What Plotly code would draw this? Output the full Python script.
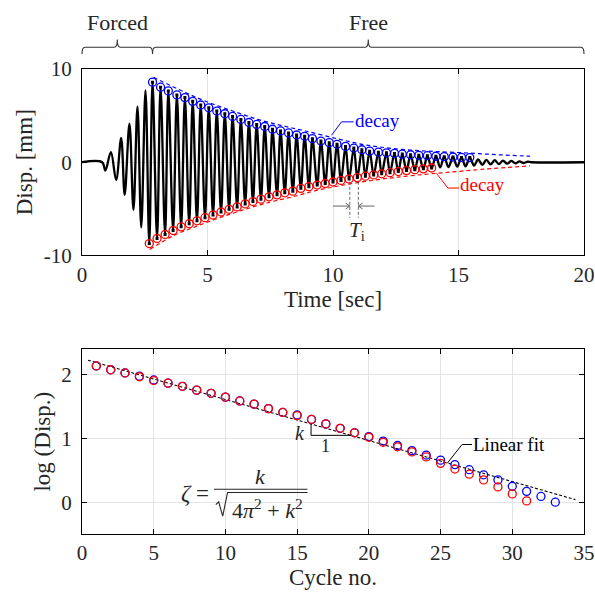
import plotly.graph_objects as go

# ---------------- data ----------------
# forced phase: extrema of the response (time [s], disp [mm])
forced_t = [0.0, 0.80, 0.93, 1.15, 1.36, 1.56, 1.70, 1.89, 2.05, 2.21, 2.36, 2.53]
forced_v = [0.0, 0.0, -0.9, 1.08, -1.9, 2.6, -3.5, 4.15, -5.1, 5.95, -7.0, 7.7]

# free phase: positive peaks (blue circles)
peak_t = [2.81, 3.13, 3.44, 3.78, 4.10, 4.41, 4.73, 5.05, 5.37, 5.69, 6.00, 6.33, 6.65, 6.96,
          7.28, 7.59, 7.91, 8.23, 8.55, 8.87, 9.18, 9.52, 9.85, 10.16, 10.50, 10.83, 11.15,
          11.46, 11.81, 12.13, 12.45, 12.76, 13.09, 13.42, 13.76, 14.10, 14.43, 14.78, 15.12, 15.45]
peak_v = [8.59, 8.05, 7.65, 7.22, 6.93, 6.53, 6.14, 5.84, 5.49, 5.20, 4.91, 4.59, 4.26, 4.05,
          3.83, 3.54, 3.36, 3.14, 2.92, 2.78, 2.53, 2.27, 2.10, 1.92, 1.70, 1.52, 1.34,
          1.19, 1.08, 1.01, 0.95, 0.87, 0.80, 0.74, 0.70, 0.64, 0.60, 0.56, 0.52, 0.50]

# free phase: negative peaks (red circles)
trough_t = [2.68, 2.99, 3.31, 3.63, 3.95, 4.27, 4.58, 4.90, 5.22, 5.54, 5.86, 6.18, 6.50, 6.81,
            7.13, 7.45, 7.77, 8.08, 8.40, 8.72, 9.04, 9.37, 9.69, 10.00, 10.32, 10.64, 10.97,
            11.29, 11.62, 11.94, 12.27, 12.60, 12.93, 13.26, 13.60, 13.93]
trough_v = [-8.72, -8.18, -7.75, -7.32, -6.93, -6.60, -6.28, -5.95, -5.66, -5.34, -5.05, -4.79,
            -4.47, -4.22, -3.96, -3.71, -3.50, -3.28, -3.10, -2.80, -2.62, -2.45, -2.28, -2.12,
            -1.95, -1.80, -1.65, -1.50, -1.36, -1.24, -1.12, -1.00, -0.90, -0.80, -0.71, -0.62]

# remaining small oscillation (no markers)
tail_t = [14.27, 14.60, 14.95, 15.28, 15.62, 15.78, 15.95, 16.11, 16.28, 16.44, 16.61, 16.77,
          16.94, 17.10, 17.27, 17.43, 17.60, 17.76, 17.92, 20.0]
tail_v = [-0.56, -0.52, -0.48, -0.44, -0.36, 0.30, -0.28, 0.26, -0.24, 0.22, -0.20, 0.18,
          -0.16, 0.14, -0.12, 0.10, -0.08, 0.06, 0.0, 0.0]

# decay envelopes (dashed)
env_up_t = [2.85, 4.1, 5.05, 6.0, 7.0, 8.0, 8.9, 10.2, 11.2, 12.1, 13.1, 14.1, 15.45, 16.6, 17.85]
env_up_v = [9.1, 7.5, 6.4, 5.5, 4.6, 3.9, 3.35, 2.5, 1.9, 1.56, 1.3, 1.15, 0.98, 0.8, 0.65]
env_lo_t = [2.7, 3.63, 4.58, 5.54, 6.5, 7.45, 8.4, 9.37, 10.32, 11.29, 12.27, 13.26, 14.5, 16.0, 17.85]
env_lo_v = [-9.35, -7.9, -6.85, -5.9, -5.05, -4.3, -3.7, -3.0, -2.5, -2.05, -1.7, -1.4, -1.1, -0.75, -0.4]

# phases of the excitation
phase_bounds = [0.0, 2.81, 20.0]
phase_names = ["Forced", "Free"]

# tick labels
top_xticks = [0, 5, 10, 15, 20]
top_yticks = [-10, 0, 10]
top_ytext = ["-10", "0", "10"]
bot_xticks = [0, 5, 10, 15, 20, 25, 30, 35]
bot_yticks = [0, 1, 2]

# log-decrement plot
cycle_blue = list(range(1, 34))
log_blue = [2.14, 2.08, 2.03, 1.98, 1.92, 1.87, 1.82, 1.76, 1.71, 1.65, 1.59, 1.54, 1.47, 1.41,
            1.37, 1.30, 1.23, 1.16, 1.09, 1.03, 0.96, 0.89, 0.81, 0.74, 0.66, 0.59, 0.51, 0.43,
            0.35, 0.25, 0.17, 0.09, 0.00]
cycle_red = list(range(1, 32))
log_red = [2.14, 2.08, 2.03, 1.97, 1.91, 1.87, 1.82, 1.76, 1.71, 1.65, 1.59, 1.54, 1.47, 1.41,
           1.36, 1.30, 1.23, 1.16, 1.09, 1.02, 0.94, 0.87, 0.79, 0.71, 0.61, 0.52, 0.44, 0.35,
           0.24, 0.13, 0.02]
fit_x = [0.42, 34.4]
fit_y = [2.23, 0.04]

# ---------------- figure ----------------
FONT = "Liberation Serif"
TXT = "#262626"
BLUE = "#0000ff"
RED = "#ff0000"

pts = sorted(zip(forced_t + peak_t + trough_t + tail_t, forced_v + peak_v + trough_v + tail_v))
wave_t = [p[0] for p in pts]
wave_v = [p[1] for p in pts]

fig = go.Figure()
# top plot
fig.add_trace(go.Scatter(x=env_up_t, y=env_up_v, mode="lines", line=dict(color=BLUE, width=1.2, dash="4px,3px", shape="spline")))
fig.add_trace(go.Scatter(x=env_lo_t, y=env_lo_v, mode="lines", line=dict(color=RED, width=1.2, dash="4px,3px", shape="spline")))
fig.add_trace(go.Scatter(x=wave_t, y=wave_v, mode="lines", line=dict(color="black", width=2.3, shape="spline", smoothing=1.0)))
fig.add_trace(go.Scatter(x=peak_t, y=peak_v, mode="markers", marker=dict(symbol="circle-open", size=8, color=BLUE, line=dict(width=1.3))))
fig.add_trace(go.Scatter(x=trough_t, y=trough_v, mode="markers", marker=dict(symbol="circle-open", size=8, color=RED, line=dict(width=1.3))))
fig.add_trace(go.Scatter(x=peak_t + trough_t, y=peak_v + trough_v, mode="markers", marker=dict(symbol="square", size=3, color="black")))

# bottom plot
fig.add_trace(go.Scatter(x=fit_x, y=fit_y, mode="lines", xaxis="x2", yaxis="y2", line=dict(color="black", width=1.1, dash="3px,2px")))
fig.add_trace(go.Scatter(x=cycle_blue, y=log_blue, mode="markers", xaxis="x2", yaxis="y2", marker=dict(symbol="circle-open", size=8, color=BLUE, line=dict(width=1.3))))
fig.add_trace(go.Scatter(x=cycle_red, y=log_red, mode="markers", xaxis="x2", yaxis="y2", marker=dict(symbol="circle-open", size=8, color=RED, line=dict(width=1.3))))

axis_common = dict(showline=True, linecolor="black", linewidth=1, mirror="allticks", ticks="inside",
                   ticklen=5, tickcolor="black", showgrid=True, gridcolor="#e3e3e3", gridwidth=1,
                   zeroline=False, automargin=False, tickfont=dict(family=FONT, size=21, color=TXT))
title_font = dict(family=FONT, size=23, color=TXT)

fig.update_layout(
    width=595, height=599, margin=dict(l=82, r=11, t=69, b=65),
    plot_bgcolor="white", paper_bgcolor="white", showlegend=False,
    font=dict(family=FONT, color=TXT),
    xaxis=dict(domain=[0, 1], anchor="y", range=[0, 20], tickvals=top_xticks,
               title=dict(text="Time [sec]", font=title_font, standoff=2), **axis_common),
    yaxis=dict(domain=[0.599, 1], anchor="x", range=[-10, 10], tickvals=top_yticks, ticktext=top_ytext,
               ticklabelstandoff=5,
               title=dict(text="Disp. [mm]", font=title_font, standoff=4), **axis_common),
    xaxis2=dict(domain=[0, 1], anchor="y2", range=[0, 35], tickvals=bot_xticks,
                title=dict(text="Cycle no.", font=title_font, standoff=2), **axis_common),
    yaxis2=dict(domain=[0, 0.397], anchor="x2", range=[-0.5, 2.4], tickvals=bot_yticks,
                ticklabelstandoff=5,
                title=dict(text="log (Disp.)", font=title_font, standoff=4), **axis_common),
)

# ---- phase braces above the top plot (paper coords) ----
xr = 20.0
yl, yh, yp = 1.0467, 1.0323, 1.0634
r = 0.006
for i, name in enumerate(phase_names):
    a, b = phase_bounds[i] / xr, phase_bounds[i + 1] / xr
    m = (a + b) / 2
    path = (f"M {a},{yh} Q {a},{yl} {a + r},{yl} L {m - r},{yl} Q {m},{yl} {m},{yp} "
            f"Q {m},{yl} {m + r},{yl} L {b - r},{yl} Q {b},{yl} {b},{yh}")
    fig.add_shape(type="path", path=path, xref="paper", yref="paper", line=dict(color="#333333", width=1.1))
    fig.add_annotation(x=m, y=1.101, xref="paper", yref="paper", text=name, showarrow=False,
                       xanchor="center", yanchor="middle",
                       font=dict(family=FONT, size=22, color=TXT))

# ---- top plot annotations ----
fig.add_annotation(x=10.80, y=4.46, xref="x", yref="y", text="decay", xanchor="left", yanchor="middle",
                   showarrow=False, font=dict(family=FONT, size=19, color=BLUE))
fig.add_shape(type="path", path="M 9.94,2.89 L 10.34,4.33 L 10.82,4.33", xref="x", yref="y",
              line=dict(color=BLUE, width=1))
fig.add_annotation(x=14.98, y=-2.41, xref="x", yref="y", text="decay", xanchor="left", yanchor="middle",
                   showarrow=False, font=dict(family=FONT, size=19, color=RED))
fig.add_shape(type="path", path="M 14.12,-1.19 L 14.58,-2.77 L 15.02,-2.77", xref="x", yref="y",
              line=dict(color=RED, width=1))
# T_i
for xv in (10.67, 11.01):
    fig.add_shape(type="line", x0=xv, x1=xv, y0=-2.1, y1=-5.95, xref="x", yref="y",
                  line=dict(color="#555555", width=0.9, dash="3px,2px"))
fig.add_shape(type="line", x0=10.0, x1=10.67, y0=-4.7, y1=-4.7, xref="x", yref="y", line=dict(color="#555555", width=0.9))
fig.add_shape(type="path", path="M 10.50,-4.38 L 10.67,-4.7 L 10.50,-5.02", xref="x", yref="y", line=dict(color="#555555", width=0.9))
fig.add_shape(type="line", x0=11.01, x1=11.66, y0=-4.7, y1=-4.7, xref="x", yref="y", line=dict(color="#555555", width=0.9))
fig.add_shape(type="path", path="M 11.18,-4.38 L 11.01,-4.7 L 11.18,-5.02", xref="x", yref="y", line=dict(color="#555555", width=0.9))
fig.add_annotation(x=10.95, y=-7.35, xref="x", yref="y", text="<i>T</i><sub>i</sub>", showarrow=False,
                   xanchor="center", yanchor="middle", font=dict(family=FONT, size=21, color=TXT))

# ---- bottom plot annotations ----
fig.add_annotation(x=15.2, y=1.08, xref="x2", yref="y2", text="<i>k</i>", showarrow=False,
                   xanchor="center", yanchor="middle", font=dict(family=FONT, size=20, color=TXT))
fig.add_shape(type="path", path="M 15.97,1.23 L 15.97,1.05 L 18.75,1.05", xref="x2", yref="y2",
              line=dict(color="black", width=1))
fig.add_annotation(x=17.0, y=0.89, xref="x2", yref="y2", text="1", showarrow=False,
                   xanchor="center", yanchor="middle", font=dict(family=FONT, size=18, color=TXT))
fig.add_annotation(x=27.15, y=0.91, xref="x2", yref="y2", text="Linear fit", xanchor="left", yanchor="middle",
                   showarrow=False, font=dict(family=FONT, size=19, color="black"))
fig.add_shape(type="path", path="M 25.46,0.61 L 26.5,0.906 L 27.19,0.906", xref="x2", yref="y2",
              line=dict(color="black", width=1))
# damping formula
fig.add_annotation(x=9.0, y=0.13, xref="x2", yref="y2", text="<i>ζ</i> =", xanchor="right", yanchor="middle",
                   showarrow=False, font=dict(family=FONT, size=23, color=TXT))
fig.add_annotation(x=12.45, y=0.41, xref="x2", yref="y2", text="<i>k</i>", showarrow=False,
                   xanchor="center", yanchor="middle", font=dict(family=FONT, size=22, color=TXT))
fig.add_shape(type="line", x0=9.2, x1=15.72, y0=0.203, y1=0.203, xref="x2", yref="y2", line=dict(color=TXT, width=1.2))
fig.add_shape(type="path", path="M 9.33,-0.04 L 9.53,0.005 L 9.81,-0.22 L 10.15,0.153 L 15.72,0.153",
              xref="x2", yref="y2", line=dict(color=TXT, width=1.1))
fig.add_annotation(x=12.95, y=-0.10, xref="x2", yref="y2",
                   text="4<i>π</i><sup>2</sup> + <i>k</i><sup>2</sup>", showarrow=False,
                   xanchor="center", yanchor="middle", font=dict(family=FONT, size=22, color=TXT))

fig.write_html("out.html")
